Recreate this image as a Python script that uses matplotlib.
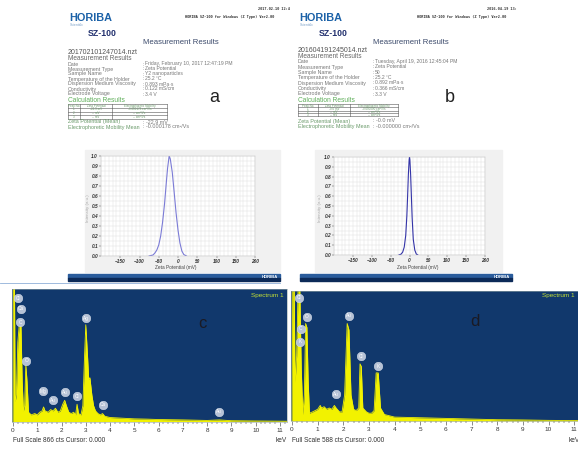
import matplotlib.pyplot as plt
import matplotlib.patches as mpatches
import numpy as np
from matplotlib.ticker import MultipleLocator

plt.rcParams['font.family'] = ['Liberation Sans', 'DejaVu Sans']

W, H = 578, 450

# ---------------- data ----------------
# zeta potential distributions (mV, normalised intensity)
zeta_a_mv = [-75, -65, -60, -55, -50, -45, -40, -35, -30, -27, -23, -20, -15, -10, -5, 0, 5, 10, 15, 22]
zeta_a_int = [0.0, 0.01, 0.03, 0.06, 0.11, 0.2, 0.34, 0.52, 0.75, 0.88, 1.0, 0.97, 0.84, 0.64, 0.43, 0.26, 0.13, 0.05, 0.015, 0.0]
zeta_b_mv = [-28, -22, -18, -14, -10, -7, -5, -3, -1, 0, 1, 3, 5, 7, 10, 14, 18, 22]
zeta_b_int = [0.0, 0.01, 0.03, 0.08, 0.2, 0.4, 0.6, 0.82, 0.97, 1.0, 0.97, 0.82, 0.6, 0.38, 0.16, 0.05, 0.01, 0.0]

# EDX spectra (keV, fraction of full scale)
kev_c = [0.0, 0.02, 0.06, 0.09, 0.14, 0.2, 0.26, 0.33, 0.38, 0.43, 0.48, 0.53, 0.58, 0.64, 0.75, 0.9,
         1.0, 1.1, 1.2, 1.26, 1.32, 1.45, 1.55, 1.65, 1.75, 1.85, 1.95, 2.05, 2.13, 2.2, 2.3, 2.4,
         2.5, 2.58, 2.64, 2.7, 2.8, 2.88, 2.95, 3.0, 3.07, 3.12, 3.17, 3.25, 3.32, 3.4, 3.5, 3.6,
         3.69, 3.78, 4.0, 4.5, 5.0, 5.5, 6.0, 7.0, 8.0, 8.5, 9.0, 10.0, 11.3]
cts_c = [0.0, 1.1, 1.1, 0.15, 0.2, 0.6, 0.73, 0.72, 0.3, 0.08, 0.12, 0.43, 0.3, 0.07, 0.05, 0.06,
         0.05, 0.07, 0.08, 0.11, 0.08, 0.07, 0.09, 0.08, 0.1, 0.07, 0.08, 0.13, 0.16, 0.12, 0.07, 0.06,
         0.07, 0.05, 0.13, 0.06, 0.05, 0.12, 0.5, 0.73, 0.5, 0.32, 0.33, 0.2, 0.12, 0.08, 0.06, 0.05,
         0.06, 0.04, 0.03, 0.025, 0.02, 0.018, 0.015, 0.012, 0.008, 0.012, 0.006, 0.004, 0.002]
kev_d = [0.0, 0.03, 0.08, 0.12, 0.18, 0.24, 0.3, 0.36, 0.42, 0.48, 0.53, 0.58, 0.63, 0.68, 0.8, 0.9,
         1.0, 1.1, 1.15, 1.25, 1.35, 1.45, 1.55, 1.65, 1.72, 1.85, 1.95, 2.05, 2.15, 2.22, 2.3, 2.4,
         2.5, 2.6, 2.65, 2.7, 2.76, 2.9, 3.0, 3.1, 3.2, 3.28, 3.36, 3.45, 3.6, 3.8, 4.0, 5.0,
         6.0, 7.0, 8.0, 9.0, 10.0, 11.2]
cts_d = [0.0, 1.1, 1.1, 0.3, 0.5, 1.05, 1.05, 0.4, 0.05, 0.2, 0.75, 0.72, 0.3, 0.06, 0.07, 0.08,
         0.09, 0.12, 0.1, 0.11, 0.09, 0.1, 0.09, 0.12, 0.1, 0.07, 0.07, 0.2, 0.75, 0.7, 0.2, 0.09,
         0.08, 0.1, 0.44, 0.42, 0.1, 0.07, 0.06, 0.06, 0.08, 0.37, 0.37, 0.1, 0.05, 0.04, 0.03, 0.025,
         0.02, 0.015, 0.01, 0.008, 0.005, 0.003]

# element markers (label, keV, height)
marks_c = [('Cl', 0.21, 0.93), ('Ca', 0.34, 0.85), ('C', 0.30, 0.75), ('O', 0.55, 0.46),
           ('Mg', 1.24, 0.23), ('Au', 1.65, 0.16), ('Au', 2.13, 0.22), ('Cl', 2.64, 0.19),
           ('Ag', 3.0, 0.78), ('Ca', 3.69, 0.125), ('Au', 8.5, 0.075)]
marks_d = [('Cl', 0.26, 0.95), ('O', 0.585, 0.80), ('C', 0.34, 0.71), ('K', 0.30, 0.61),
           ('Au', 2.21, 0.81), ('Cl', 2.68, 0.50), ('K', 3.35, 0.42), ('Au', 1.70, 0.205)]

row_labels = ['Date', 'Measurement Type', 'Sample Name', 'Temperature of the Holder',
              'Dispersion Medium Viscosity', 'Conductivity', 'Electrode Voltage']
values_a = ['Friday, February 10, 2017 12:47:19 PM', 'Zeta Potential', 'Y2 nanoparticles',
            '25.2 \u00b0C', '0.893 mPa\u00b7s', '0.122 mS/cm', '3.4 V']
values_b = ['Tuesday, April 19, 2016 12:45:04 PM', 'Zeta Potential', '50',
            '25.2 \u00b0C', '0.892 mPa\u00b7s', '0.366 mS/cm', '3.3 V']
table_a = [['Peak No.', 'Zeta Potential', 'Electrophoretic Mobility'],
           ['1', '-22.9 mV', '-0.000178 cm\u00b2/Vs'],
           ['2', '-- mV', '-- cm\u00b2/Vs'],
           ['3', '-- mV', '-- cm\u00b2/Vs']]
table_b = [['Peak No.', 'Zeta Potential', 'Electrophoretic Mobility'],
           ['1', '-0.0 mV', '-0.000000 cm\u00b2/Vs'],
           ['2', '-- mV', '-- cm\u00b2/Vs'],
           ['3', '-- mV', '-- cm\u00b2/Vs']]

fig = plt.figure(figsize=(W / 100, H / 100), dpi=100)
bg = fig.add_axes([0, 0, 1, 1])
bg.set_xlim(0, W)
bg.set_ylim(H, 0)
bg.axis('off')


def px_axes(x0, y0, x1, y1):
    return fig.add_axes([x0 / W, 1 - y1 / H, (x1 - x0) / W, (y1 - y0) / H])


def ftext(x, y, s, **kw):
    fig.text(x / W, 1 - y / H, s, **kw)


def rect(x0, y0, x1, y1, **kw):
    bg.add_patch(mpatches.Rectangle((x0, y0), x1 - x0, y1 - y0, **kw))


def report(p):
    mono = dict(family='DejaVu Sans Mono', fontweight='bold', fontsize=2.6, color='#333', va='center')
    bg.text(p['date_x'], 9, p['date'], **mono)
    bg.text(p['hdr_x'], 17, 'HORIBA SZ-100 for Windows (Z Type) Ver2.00', **mono)
    bg.text(p['x0'] + 1, 18, 'HORIBA', fontsize=7.8, fontweight='bold', color='#1c62a8', va='center')
    bg.text(p['x0'] + 2, 24.5, 'Scientific', fontsize=2.5, color='#7aa0c8', va='center')
    bg.text(p['sz_x'], 33, 'SZ-100', fontsize=6.3, fontweight='bold', color='#22306e', va='center')
    bg.text(p['head_x'], 43, 'Measurement Results', fontsize=5.6, color='#3b4a6b', va='center')
    bg.text(p['x0'], p['fn_y'], p['fname'], fontsize=5, color='#555', va='center')
    bg.text(p['x0'], p['sub_y'], 'Measurement Results', fontsize=4.7, color='#666', va='center')
    for lab, val, y in zip(row_labels, p['values'], p['rows']):
        bg.text(p['x0'], y, lab, fontsize=3.8, color='#777', va='center')
        bg.text(p['val_x'] - 2, y, ':', fontsize=3.8, color='#777', va='center')
        bg.text(p['val_x'], y, val, fontsize=3.6, color='#777', va='center')
    bg.text(p['x0'], 100, 'Calculation Results', fontsize=4.8, color='#5fae5a', va='center')
    cols, trows = p['tcols'], p['trows']
    for y in trows:
        bg.plot([cols[0], cols[-1]], [y, y], color='#555', lw=0.4)
    for x in cols:
        bg.plot([x, x], [trows[0], trows[-1]], color='#555', lw=0.4)
    for r in range(4):
        for c in range(3):
            bg.text((cols[c] + cols[c + 1]) / 2, (trows[r] + trows[r + 1]) / 2, p['table'][r][c],
                    fontsize=2.2, color='#6a9a6a', ha='center', va='center')
    bg.text(p['x0'], p['zm_y'], 'Zeta Potential (Mean)', fontsize=3.9, color='#6a9a6a', va='center')
    bg.text(p['val_x'] - 2, p['zm_y'], ': ' + p['zm'], fontsize=3.9, color='#777', va='center')
    bg.text(p['x0'], p['mob_y'], 'Electrophoretic Mobility Mean', fontsize=3.9, color='#6a9a6a', va='center')
    bg.text(p['val_x'] - 2, p['mob_y'], ': ' + p['mob'], fontsize=3.9, color='#777', va='center')
    bg.text(p['let_x'], 97, p['letter'], fontsize=13, color='#222', va='center')


report(dict(date='2017.02.10 12:4', date_x=258, hdr_x=185, x0=68, sz_x=88, head_x=143,
            fname='201702101247014.nzt', fn_y=52, sub_y=58.5, values=values_a,
            rows=[64, 69, 74, 79, 84, 89, 94], val_x=145,
            tcols=[68, 80, 112, 167], trows=[104, 107.5, 111.5, 115, 118.5], table=table_a,
            zm_y=122, zm='-22.9 mV', mob_y=127, mob='-0.000178 cm\u00b2/Vs', let_x=209, letter='a'))
report(dict(date='2016.04.19 13:', date_x=487, hdr_x=417, x0=298, sz_x=319, head_x=373,
            fname='201604191245014.nzt', fn_y=50.5, sub_y=56, values=values_b,
            rows=[61.5, 67, 72.3, 77.7, 83, 88.5, 94], val_x=375,
            tcols=[298, 318, 350, 398], trows=[104, 107.3, 110.7, 113.3, 115.7], table=table_b,
            zm_y=121, zm='-0.0 mV', mob_y=126.5, mob='-0.000000 cm\u00b2/Vs', let_x=445, letter='b'))


def zeta_panel(box, panel, bar, ylab_x, xlab_x, x, y, color):
    rect(*panel[:2], *panel[2:], color='#f1f1f1', zorder=0)
    rect(bar[0], 274, bar[1], 277.5, color='#2a5c9c', zorder=1)
    rect(bar[0], 277.5, bar[1], 281, color='#0c2a58', zorder=1)
    bg.text(bar[1] - 2, 277.5, 'HORIBA', fontsize=3, fontweight='bold', color='white',
            ha='right', va='center')
    bg.text(ylab_x, 208, 'Intensity (a.u.)', fontsize=3.2, color='#aaa', rotation=90,
            ha='center', va='center')
    bg.text(xlab_x, 268, 'Zeta Potential (mV)', fontsize=3.4, color='#444', ha='center', va='center')
    ax = px_axes(*box)
    ax.plot(x, y, color=color, lw=0.8)
    ax.set_xlim(-200, 200)
    ax.set_ylim(0, 1.0)
    ax.set_xticks(range(-150, 201, 50))
    yt = np.arange(0, 1.01, 0.1)
    ax.set_yticks(yt)
    ax.set_yticklabels([f'{v:.1f}' for v in yt])
    ax.xaxis.set_minor_locator(MultipleLocator(10))
    ax.yaxis.set_minor_locator(MultipleLocator(0.05))
    ax.grid(which='both', color='#dcdcdc', lw=0.3)
    ax.set_axisbelow(True)
    ax.tick_params(labelsize=3.4, length=1.2, width=0.3, pad=1, colors='#333')
    ax.tick_params(which='minor', length=0)
    for lbl in ax.get_xticklabels() + ax.get_yticklabels():
        lbl.set_fontweight('bold')
        lbl.set_fontstyle('italic')
    for s in ax.spines.values():
        s.set_linewidth(0.3)
        s.set_color('#bbb')
    return ax


zeta_panel((101, 156, 255, 256), (85, 150, 280, 272), (68, 280), 88, 176,
           zeta_a_mv, zeta_a_int, '#7b7bd6')
zeta_panel((334, 157, 485, 255), (315, 150, 502, 272), (300, 512), 320, 418,
           zeta_b_mv, zeta_b_int, '#3434a8')
bg.plot([0, 280], [282.5, 282.5], color='#8fb0d8', lw=0.6)


def edx_panel(box, xlim, kev, cts, marks, scale, letter_xy, letter, spec_x, spec_ha, kev_x, kev_ha):
    ax = px_axes(*box)
    ax.set_facecolor('#11386c')
    ax.fill_between(kev, cts, color='#f2f200', lw=0)
    ax.plot(kev, cts, color='#f2f200', lw=0.6)
    ax.set_xlim(*xlim)
    ax.set_ylim(0, 1)
    ax.set_yticks([])
    ax.set_xticks(range(0, 12))
    ax.xaxis.set_minor_locator(MultipleLocator(0.2))
    ax.tick_params(axis='x', labelsize=4.6, length=3, width=0.4, pad=1.5, colors='#333')
    ax.tick_params(axis='x', which='minor', length=1.5, width=0.3)
    for s in ax.spines.values():
        s.set_linewidth(0.4)
        s.set_color('#9aa')
    for lab, xk, yk in marks:
        ax.plot([xk], [yk], 'o', ms=6.2, mfc='#b6c2d6', mec='#dde4ee', mew=0.3, zorder=5)
        ax.text(xk, yk, lab, fontsize=3.4, color='white', ha='center', va='center', zorder=6)
    ftext(box[0] + 1, 441, 'Full Scale %d cts Cursor: 0.000' % scale, fontsize=4.7, color='#333', va='center')
    ftext(kev_x, 441, 'keV', fontsize=4.7, color='#333', va='center', ha=kev_ha)
    ftext(spec_x, 296, 'Spectrum 1', fontsize=4.6, color='#c3e035', va='center', ha=spec_ha)
    ftext(*letter_xy, letter, fontsize=12, color='#1a1a24', va='center', ha='center')
    return ax


edx_panel((12, 289, 287, 421.5), (-0.04, 11.29), kev_c, cts_c, marks_c, 866,
          (202, 323), 'c', 284, 'right', 287, 'right')
edx_panel((291, 291, 578, 421), (-0.04, 11.15), kev_d, cts_d, marks_d, 588,
          (475, 322), 'd', 542, 'left', 569, 'left')

fig.savefig('out.png', dpi=100)
